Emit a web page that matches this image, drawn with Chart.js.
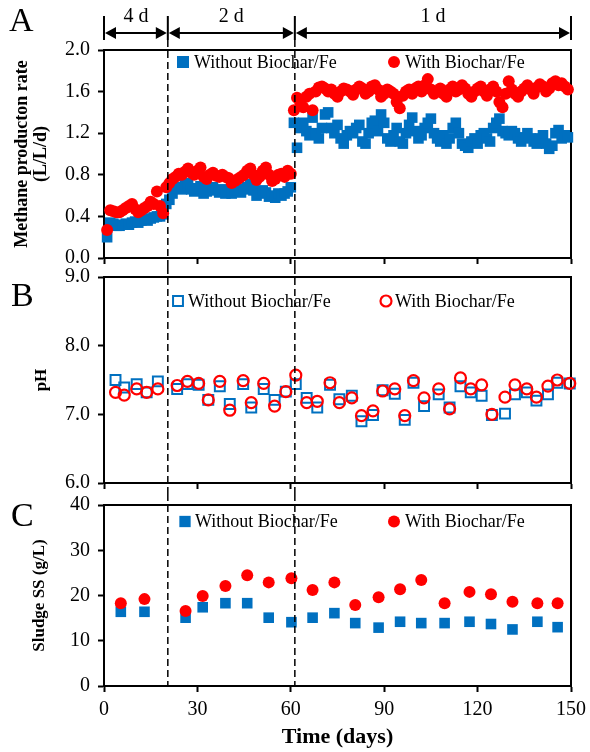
<!DOCTYPE html>
<html>
<head>
<meta charset="utf-8">
<script src="https://cdn.jsdelivr.net/npm/chart.js@4.4.1/dist/chart.umd.min.js"></script>
<style>
  html, body { margin: 0; padding: 0; background: #fff; }
  #wrap { position: relative; width: 590px; height: 752px; }
  canvas { position: absolute; left: 0; }
</style>
</head>
<body>
<div id="wrap">
  <canvas id="chartA" width="590" height="267" style="top:0px"></canvas>
  <canvas id="chartB" width="590" height="227" style="top:267px"></canvas>
  <canvas id="chartC" width="590" height="258" style="top:494px"></canvas>
</div>
<script>
// --- DATA ---
const seriesNames = ['Without Biochar/Fe', 'With Biochar/Fe'];
const phaseBounds = [0, 20.5, 61.3, 150];
const phaseLabels = ['4 d', '2 d', '1 d'];
const timeTicks = [0, 30, 60, 90, 120, 150];

// A: methane production rate (L/L/d), daily
const methaneDays = [
  1, 2, 3, 4, 5, 6, 7, 8, 9, 10, 11, 12, 13, 14, 15, 16, 17, 18, 19, 20,
  21, 22, 23, 24, 25, 26, 27, 28, 29, 30, 31, 32, 33, 34, 35, 36, 37, 38, 39, 40,
  41, 42, 43, 44, 45, 46, 47, 48, 49, 50, 51, 52, 53, 54, 55, 56, 57, 58, 59, 60,
  61, 62, 63, 64, 65, 66, 67, 68, 69, 70, 71, 72, 73, 74, 75, 76, 77, 78, 79, 80,
  81, 82, 83, 84, 85, 86, 87, 88, 89, 90, 91, 92, 93, 94, 95, 96, 97, 98, 99, 100,
  101, 102, 103, 104, 105, 106, 107, 108, 109, 110, 111, 112, 113, 114, 115, 116, 117, 118, 119, 120,
  121, 122, 123, 124, 125, 126, 127, 128, 129, 130, 131, 132, 133, 134, 135, 136, 137, 138, 139, 140,
  141, 142, 143, 144, 145, 146, 147, 148, 149
];
const methaneWithout = [
  0.20, 0.34, 0.33, 0.31, 0.31, 0.32, 0.33, 0.32, 0.34, 0.35, 0.34, 0.36, 0.37, 0.36, 0.38, 0.39, 0.40, 0.40, 0.42, 0.52,
  0.56, 0.62, 0.67, 0.68, 0.66, 0.70, 0.72, 0.66, 0.64, 0.67, 0.69, 0.62, 0.64, 0.66, 0.68, 0.65, 0.63, 0.66, 0.62, 0.64,
  0.62, 0.65, 0.66, 0.63, 0.66, 0.68, 0.71, 0.65, 0.60, 0.62, 0.65, 0.63, 0.59, 0.60, 0.58, 0.62, 0.60, 0.62, 0.64, 0.68,
  1.30, 1.06, 1.25, 1.30, 1.22, 1.18, 1.35, 1.20, 1.15, 1.25, 1.38, 1.40, 1.25, 1.20, 1.28, 1.15, 1.10, 1.18, 1.22, 1.20,
  1.25, 1.28, 1.12, 1.10, 1.20, 1.30, 1.32, 1.22, 1.38, 1.30, 1.15, 1.12, 1.18, 1.25, 1.12, 1.10, 1.20, 1.28, 1.35, 1.22,
  1.15, 1.18, 1.25, 1.30, 1.34, 1.20, 1.15, 1.12, 1.18, 1.10, 1.15, 1.25, 1.30, 1.20, 1.10, 1.08, 1.06, 1.12, 1.15, 1.10,
  1.18, 1.20, 1.15, 1.12, 1.25, 1.30, 1.34, 1.22, 1.20, 1.18, 1.22, 1.20, 1.15, 1.12, 1.16, 1.20, 1.15, 1.12, 1.10, 1.15,
  1.18, 1.10, 1.05, 1.08, 1.20, 1.23, 1.15, 1.18, 1.16
];
const methaneWith = [
  0.27, 0.46, 0.45, 0.44, 0.44, 0.46, 0.48, 0.50, 0.52, 0.47, 0.44, 0.46, 0.48, 0.50, 0.54, 0.52, 0.64, 0.50, 0.43, 0.68,
  0.72, 0.76, 0.78, 0.81, 0.80, 0.83, 0.86, 0.82, 0.80, 0.84, 0.87, 0.78, 0.76, 0.80, 0.82, 0.79, 0.78, 0.80, 0.78, 0.77,
  0.72, 0.74, 0.76, 0.78, 0.80, 0.84, 0.86, 0.80, 0.75, 0.78, 0.84, 0.87, 0.80, 0.74, 0.76, 0.80, 0.81, 0.78, 0.84, 0.81,
  1.42, 1.54, 1.50, 1.45, 1.55, 1.58, 1.42, 1.60, 1.64, 1.65, 1.63, 1.60, 1.62, 1.58, 1.55, 1.60, 1.63, 1.62, 1.60, 1.57,
  1.62, 1.65, 1.63, 1.58, 1.60, 1.65, 1.66, 1.62, 1.55, 1.58, 1.62, 1.60, 1.58, 1.50, 1.44, 1.56, 1.60, 1.62, 1.58, 1.63,
  1.65, 1.60, 1.66, 1.72, 1.62, 1.58, 1.60, 1.63, 1.58, 1.55, 1.62, 1.65, 1.60, 1.62, 1.66, 1.63, 1.58, 1.55, 1.60, 1.63,
  1.65, 1.60, 1.56, 1.62, 1.65, 1.60, 1.50, 1.45, 1.58, 1.70, 1.62, 1.58, 1.55, 1.60, 1.63, 1.66, 1.62, 1.58, 1.64, 1.67,
  1.65, 1.60, 1.63, 1.68, 1.70, 1.66, 1.68, 1.65, 1.62
];
const methaneTicks = [0.0, 0.4, 0.8, 1.2, 1.6, 2.0];

// B: pH
const phDays = [3.7, 6.5, 10.5, 13.7, 17.3, 23.5, 26.8, 30.4, 33.5, 37.2, 40.4, 44.7, 47.3, 51.3,
  54.8, 58.4, 61.6, 65.1, 68.5, 72.6, 75.6, 79.6, 82.7, 86.4, 89.5, 93.4, 96.6, 99.4,
  102.8, 107.5, 111, 114.5, 117.8, 121.3, 124.6, 128.8, 132, 135.8, 138.9, 142.6, 145.6, 149.6];
const phWithout = [7.50, 7.39, 7.44, 7.32, 7.48, 7.37, 7.44, 7.43, 7.21, 7.41, 7.15, 7.44, 7.10, 7.37,
  7.21, 7.33, 7.44, 7.24, 7.10, 7.43, 7.22, 7.27, 6.90, 6.99, 7.35, 7.30, 6.92, 7.46,
  7.12, 7.29, 7.10, 7.41, 7.32, 7.27, 6.99, 7.01, 7.29, 7.32, 7.20, 7.29, 7.46, 7.45];
const phWith = [7.32, 7.28, 7.37, 7.32, 7.37, 7.42, 7.48, 7.45, 7.21, 7.48, 7.06, 7.49, 7.17, 7.45,
  7.12, 7.33, 7.57, 7.17, 7.19, 7.46, 7.17, 7.24, 6.98, 7.05, 7.34, 7.37, 6.98, 7.49,
  7.24, 7.37, 7.08, 7.53, 7.37, 7.43, 7.00, 7.25, 7.43, 7.37, 7.25, 7.41, 7.50, 7.45];
const phTicks = [6.0, 7.0, 8.0, 9.0];

// C: sludge SS (g/L)
const ssDays = [5.4, 13, 26.2, 31.7, 39, 46, 52.9, 60.2, 67, 74, 80.7, 88.2, 95.1, 101.9, 109.4, 117.4, 124.3, 131.2, 139.2, 145.7];
const ssWithout = [16.4, 16.4, 15.1, 17.4, 18.3, 18.3, 15.1, 14.1, 15.1, 16.1, 13.9, 12.9, 14.2, 13.9, 13.9, 14.2, 13.7, 12.5, 14.2, 13.0];
const ssWith = [18.3, 19.2, 16.6, 19.9, 22.1, 24.5, 22.9, 23.8, 21.2, 22.9, 17.9, 19.6, 21.4, 23.4, 18.3, 20.8, 20.3, 18.6, 18.3, 18.3];
const ssTicks = [0, 10, 20, 30, 40];

// --- STYLE ---
const BLUE = '#0070C0';
const RED = '#FF0000';
const SERIF = "'Liberation Serif', 'Times New Roman', serif";

function pts(xs, ys) {
  return xs.map((x, i) => ({ x: x, y: ys[i] }));
}

// frame, phase dashes, legend, arrows and panel letter
const figurePlugin = {
  id: 'figure',
  beforeDatasetsDraw(chart) {
    const { ctx, chartArea: a } = chart;
    ctx.save();
    ctx.strokeStyle = '#000';
    ctx.lineWidth = 2;
    ctx.strokeRect(a.left, a.top, a.right - a.left, a.bottom - a.top);
    ctx.restore();
  },
  afterDatasetsDraw(chart, args, opts) {
    const { ctx, chartArea: a } = chart;
    const x = chart.scales.x;
    ctx.save();
    ctx.strokeStyle = '#000';
    ctx.lineWidth = 1.5;
    ctx.setLineDash([7, 4]);
    phaseBounds.slice(1, -1).forEach(d => {
      const px = x.getPixelForValue(d);
      ctx.beginPath();
      ctx.moveTo(px, opts.dashTop);
      ctx.lineTo(px, opts.dashBottom === 'area' ? a.bottom : chart.height);
      ctx.stroke();
    });
    ctx.setLineDash([]);

    // legend inside plot
    ctx.font = '18px ' + SERIF;
    ctx.textBaseline = 'middle';
    ctx.textAlign = 'left';
    opts.legend.forEach((it, i) => {
      const ds = chart.data.datasets[i];
      const cx = a.left + it.x, cy = a.top + it.y;
      ctx.fillStyle = ds.backgroundColor;
      ctx.strokeStyle = ds.borderColor;
      ctx.lineWidth = ds.borderWidth;
      Chart.helpers.drawPoint(ctx, { pointStyle: ds.pointStyle, radius: it.r, borderWidth: ds.borderWidth }, cx, cy);
      ctx.fillStyle = '#000';
      ctx.fillText(ds.label, cx + it.gap, cy + 1);
    });

    // phase arrows above panel A
    if (opts.arrows) {
      const yA = 33;
      ctx.strokeStyle = '#000';
      ctx.fillStyle = '#000';
      ctx.lineWidth = 2;
      const pxs = phaseBounds.map(d => x.getPixelForValue(d));
      pxs.forEach(px => {
        ctx.beginPath();
        ctx.moveTo(px, 16);
        ctx.lineTo(px, 40);
        ctx.stroke();
      });
      ctx.font = '20px ' + SERIF;
      ctx.textAlign = 'center';
      ctx.textBaseline = 'alphabetic';
      for (let i = 0; i < pxs.length - 1; i++) {
        const x1 = pxs[i], x2 = pxs[i + 1];
        ctx.beginPath();
        ctx.moveTo(x1 + 6, yA);
        ctx.lineTo(x2 - 6, yA);
        ctx.stroke();
        ctx.beginPath();
        ctx.moveTo(x1 + 1, yA); ctx.lineTo(x1 + 12, yA - 6); ctx.lineTo(x1 + 12, yA + 6); ctx.closePath();
        ctx.moveTo(x2 - 1, yA); ctx.lineTo(x2 - 12, yA - 6); ctx.lineTo(x2 - 12, yA + 6); ctx.closePath();
        ctx.fill();
        ctx.fillText(phaseLabels[i], (x1 + x2) / 2, 22);
      }
    }

    // panel letter
    ctx.font = '34px ' + SERIF;
    ctx.textAlign = 'left';
    ctx.textBaseline = 'alphabetic';
    ctx.fillStyle = '#000';
    ctx.fillText(opts.letter.text, opts.letter.x, opts.letter.y);
    ctx.restore();
  }
};

function xScale(height, showLabels) {
  return {
    type: 'linear',
    min: 0,
    max: 150,
    afterBuildTicks: s => { s.ticks = timeTicks.map(v => ({ value: v })); },
    afterFit: s => {
      s.height = height;
      s.paddingLeft = 0; s.paddingRight = 0; s.paddingTop = 0; s.paddingBottom = 0;
    },
    ticks: {
      display: showLabels,
      color: '#000',
      padding: 8,
      maxRotation: 0,
      font: { family: SERIF, size: 20, lineHeight: 1.0 }
    },
    grid: { drawOnChartArea: false, drawTicks: true, tickLength: 6, tickWidth: 2, tickColor: '#000' },
    border: { display: true, color: '#000', width: 2 },
    title: showLabels ? {
      display: true,
      text: 'Time (days)',
      color: '#000',
      padding: { top: 0, bottom: 1 },
      font: { family: SERIF, size: 22, weight: 'bold', lineHeight: 1.2 }
    } : { display: false }
  };
}

function yScale(tickVals, digits, title, titlePad, titleSize) {
  return {
    type: 'linear',
    min: tickVals[0],
    max: tickVals[tickVals.length - 1],
    afterBuildTicks: s => { s.ticks = tickVals.map(v => ({ value: v })); },
    afterFit: s => {
      s.width = 104;
      s.paddingLeft = 0; s.paddingRight = 0; s.paddingTop = 0; s.paddingBottom = 0;
    },
    ticks: {
      color: '#000',
      padding: 8,
      font: { family: SERIF, size: 20, lineHeight: 0.9 },
      callback: v => Number(v).toFixed(digits)
    },
    grid: { drawOnChartArea: false, drawTicks: true, tickLength: 6, tickWidth: 2, tickColor: '#000' },
    border: { display: true, color: '#000', width: 2 },
    title: {
      display: true,
      text: title,
      color: '#000',
      padding: { top: titlePad, bottom: 0 },
      font: { family: SERIF, size: titleSize, weight: 'bold', lineHeight: 1.1 }
    }
  };
}

function datasets(xs, without, withBF, hollow, sizes) {
  return [
    {
      label: seriesNames[0],
      data: pts(xs, without),
      pointStyle: 'rect',
      pointRadius: sizes[0],
      pointHoverRadius: sizes[0],
      backgroundColor: hollow ? 'rgba(0,0,0,0)' : BLUE,
      borderColor: BLUE,
      borderWidth: hollow ? 2 : 0,
      order: 2,
      clip: false
    },
    {
      label: seriesNames[1],
      data: pts(xs, withBF),
      pointStyle: 'circle',
      pointRadius: sizes[1],
      pointHoverRadius: sizes[1],
      backgroundColor: hollow ? 'rgba(0,0,0,0)' : RED,
      borderColor: RED,
      borderWidth: hollow ? 2.2 : 0,
      order: 1,
      clip: false
    }
  ];
}

function makePanel(id, cfg) {
  return new Chart(document.getElementById(id), {
    type: 'scatter',
    data: { datasets: cfg.datasets },
    options: {
      responsive: false,
      animation: false,
      devicePixelRatio: 1,
      layout: { padding: { top: cfg.padTop, right: 19, left: 0, bottom: 0 } },
      scales: { x: cfg.x, y: cfg.y },
      plugins: {
        legend: { display: false },
        tooltip: { enabled: false },
        figure: cfg.figure
      }
    },
    plugins: [figurePlugin]
  });
}

makePanel('chartA', {
  padTop: 50,
  datasets: datasets(methaneDays, methaneWithout, methaneWith, false, [7.5, 6]),
  x: xScale(9, false),
  y: yScale(methaneTicks, 1, ['Methane producton rate', '(L/L/d)'], 12, 18),
  figure: {
    dashTop: 40,
    arrows: true,
    letter: { text: 'A', x: 9, y: 31 },
    legend: [{ x: 79, y: 12, r: 8.5, gap: 11 }, { x: 290, y: 12, r: 6, gap: 11 }]
  }
});

makePanel('chartB', {
  padTop: 10,
  datasets: datasets(phDays, phWithout, phWith, true, [7, 5.5]),
  x: xScale(11, false),
  y: yScale(phTicks, 1, 'pH', 32, 17),
  figure: {
    dashTop: 0,
    letter: { text: 'B', x: 11, y: 39 },
    legend: [{ x: 74, y: 24, r: 7, gap: 10 }, { x: 282, y: 24, r: 5.5, gap: 9 }]
  }
});

makePanel('chartC', {
  padTop: 11,
  datasets: datasets(ssDays, ssWithout, ssWith, false, [7.5, 6]),
  x: xScale(66, true),
  y: yScale(ssTicks, 0, 'Sludge SS (g/L)', 30, 17),
  figure: {
    dashTop: 0,
    dashBottom: 'area',
    letter: { text: 'C', x: 11, y: 32 },
    legend: [{ x: 81, y: 16.5, r: 8, gap: 10 }, { x: 290, y: 16.5, r: 6, gap: 11 }]
  }
});
</script>
</body>
</html>
